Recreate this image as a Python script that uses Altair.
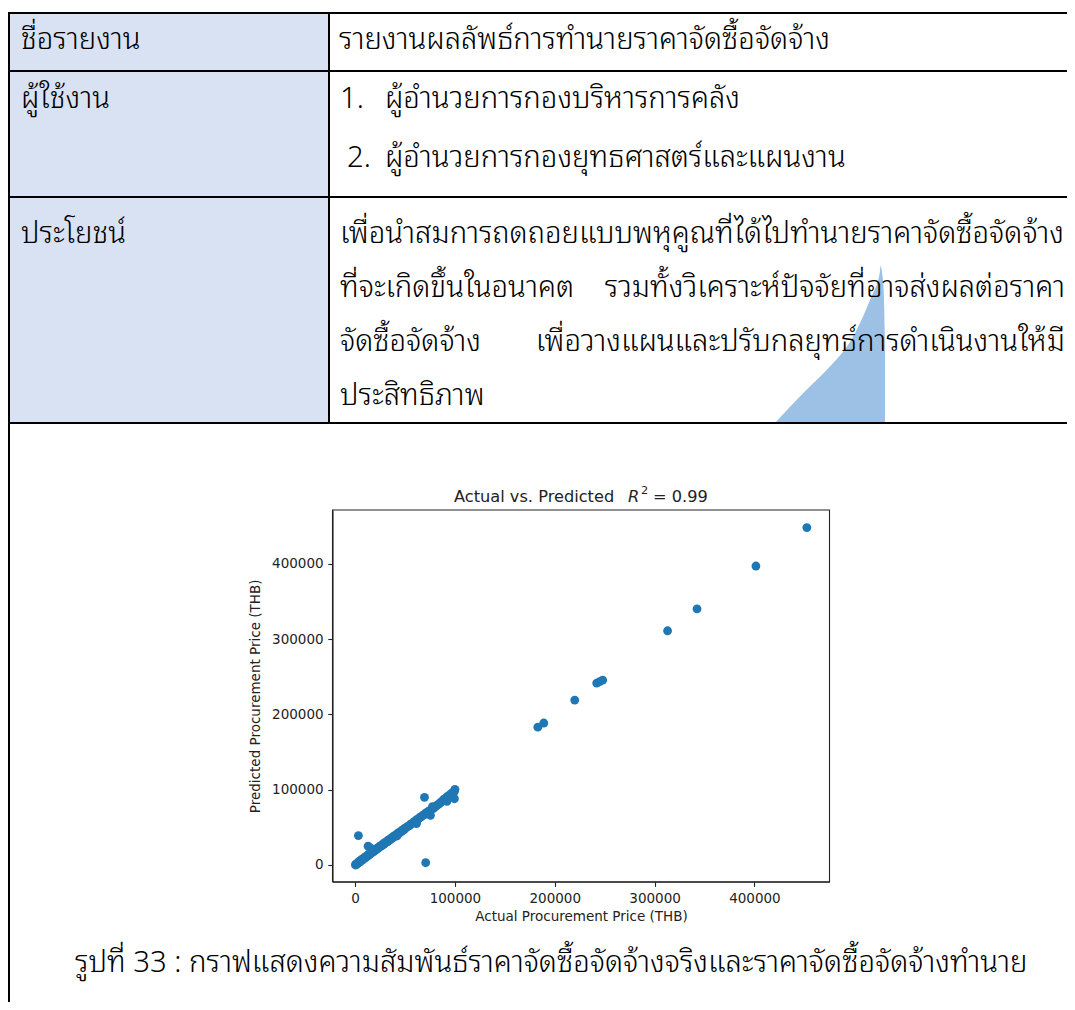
import altair as alt
import pandas as pd

# ---------------- scatter data (Actual vs. Predicted, THB) ----------------
actual = [
    300, 800, 1500, 2200, 3000, 3800, 4500, 5200, 6000, 6800,
    7500, 8300, 9000, 9800, 10500, 11300, 12000, 12800, 13500, 14300,
    15000, 16000, 17000, 18000, 19000, 20000, 21000, 22000, 23000, 24000,
    25000, 26000, 27000, 28000, 29000, 30000, 31000, 32000, 33000, 34000,
    35000, 36000, 37000, 38000, 39000, 40000, 41000, 42000, 43000, 44000,
    45000, 46000, 47000, 48000, 49000, 50000, 51500, 53000, 54500, 56000,
    57500, 59000, 60500, 62000, 63500, 65000, 66500, 68000, 69500, 71000,
    72500, 74000, 75500, 77000, 78500, 80000, 81500, 83000, 84500, 86000,
    87500, 89000, 90500, 92000, 93500, 95000, 96500, 98000, 99500, 100000,
    3300, 13000, 15500, 42000, 61500, 69500, 70700, 75500, 77500, 99500, 92000,
    183000, 189000, 220000, 242000, 245000, 248000, 313000, 342500, 401500, 452500,
]
predicted = [
    0, 1200, 900, 2600, 2400, 4300, 3900, 5800, 5400, 7300,
    6900, 8800, 8400, 10300, 9900, 11800, 11400, 13300, 12900, 14800,
    14400, 16600, 16300, 18500, 18200, 20400, 20100, 22300, 22000, 24200,
    23900, 26100, 25800, 28000, 27700, 29900, 29600, 31800, 31500, 33700,
    33400, 35600, 35300, 37500, 37200, 39400, 39100, 41300, 41000, 43200,
    42900, 45100, 44800, 47000, 46700, 48900, 49800, 51500, 52400, 54600,
    55200, 57600, 58100, 60500, 61200, 63400, 64100, 66300, 67000, 69200,
    70100, 71800, 72600, 74500, 75300, 77200, 78400, 80100, 81600, 83500,
    85200, 87400, 88300, 90600, 91500, 93400, 94600, 96300, 97800, 100500,
    39000, 25000, 22500, 38500, 55000, 89800, 3000, 66000, 77500, 88000, 84500,
    183000, 188500, 219000, 241500, 243500, 245500, 311000, 340000, 397000, 448000,
]
x_ticks = [0, 100000, 200000, 300000, 400000]
y_ticks = [0, 100000, 200000, 300000, 400000]

# ---------------- document texts ----------------
head_labels = ["ชื่อรายงาน", "ผู้ใช้งาน", "ประโยชน์"]
report_name = "รายงานผลลัพธ์การทำนายราคาจัดซื้อจัดจ้าง"
user_nums = ["1.", "2."]
users = ["ผู้อำนวยการกองบริหารการคลัง", "ผู้อำนวยการกองยุทธศาสตร์และแผนงาน"]
benefit_left = ["เพื่อนำสมการถดถอยแบบพหุคูณที่ได้ไปทำนายราคาจัดซื้อจัดจ้าง",
                "ที่จะเกิดขึ้นในอนาคต", "จัดซื้อจัดจ้าง", "ประสิทธิภาพ"]
benefit_right = ["รวมทั้งวิเคราะห์ปัจจัยที่อาจส่งผลต่อราคา",
                 "เพื่อวางแผนและปรับกลยุทธ์การดำเนินงานให้มี"]
caption = "รูปที่ 33 : กราฟแสดงความสัมพันธ์ราคาจัดซื้อจัดจ้างจริงและราคาจัดซื้อจัดจ้างทำนาย"
plot_title = ["Actual vs. Predicted", "R", "2", "= 0.99"]
x_title = "Actual Procurement Price (THB)"
y_title = "Predicted Procurement Price (THB)"

# ---------------- layout (page pixel coordinates) ----------------
W, H = 1059, 994
PX = alt.Scale(domain=[8, 8 + W], range=[0, W], nice=False, zero=False)
PY = alt.Scale(domain=[8, 8 + H], range=[0, H], nice=False, zero=False)
THAI = "Noto Sans Thai Looped, Noto Sans Thai, Noto Sans Thai UI, Loma, Garuda, Noto Sans, sans-serif"
TFS = 29.3
TFW = 300
PLOT_L, PLOT_R, PLOT_T, PLOT_B = 332.5, 829.5, 510.0, 881.7
XDOM = [-22650, 475200]
YDOM = [-22200, 471400]
INK = "#222222"
MPL_BLUE = "#1f77b4"


def px(field):
    return alt.X(field, type="quantitative", scale=PX, axis=None)


def py(field):
    return alt.Y(field, type="quantitative", scale=PY, axis=None)


# background cell fill
fill_df = pd.DataFrame({"x": [9], "x2": [329], "y": [13], "y2": [423]})
fill = alt.Chart(fill_df).mark_rect(color="#D9E2F3").encode(
    x=px("x"), x2="x2", y=py("y"), y2="y2")

# decorative blue fin behind the text
fin_df = pd.DataFrame({
    "y": [266, 280, 300, 323, 347, 370, 393, 423],
    "xl": [880.5, 878.3, 870, 860, 846.7, 826.7, 803.3, 775],
    "xr": [881, 883, 884, 884.5, 885, 885, 885, 885],
})
fin = alt.Chart(fin_df).mark_area(color="#9DC1E4", orient="horizontal", interpolate="monotone").encode(
    y=py("y"), x=px("xl"), x2="xr")

# table borders
hl_df = pd.DataFrame({"y": [13, 71, 197, 423], "x": [8, 8, 8, 8], "x2": [1075, 1075, 1075, 1075]})
hlines = alt.Chart(hl_df).mark_rule(color="black", strokeWidth=2).encode(
    x=px("x"), x2="x2", y=py("y"))
vl_df = pd.DataFrame({"x": [9, 329], "y": [12, 12], "y2": [1010, 424]})
vlines = alt.Chart(vl_df).mark_rule(color="black", strokeWidth=2).encode(
    x=px("x"), y=py("y"), y2="y2")

# texts
left_txt = pd.DataFrame({
    "x": [21, 21, 21, 339, 340, 347, 385, 385, 340, 340, 340, 340],
    "y": [49, 108, 243, 49, 108, 167, 108, 167, 243, 297, 351, 405],
    "t": head_labels + [report_name] + user_nums + users + benefit_left,
})
texts_l = alt.Chart(left_txt).mark_text(align="left", baseline="alphabetic", font=THAI,
                                        fontSize=TFS, fontWeight=TFW, color="black").encode(
    x=px("x"), y=py("y"), text="t:N")
right_txt = pd.DataFrame({"x": [1065, 1065], "y": [297, 351], "t": benefit_right})
texts_r = alt.Chart(right_txt).mark_text(align="right", baseline="alphabetic", font=THAI,
                                         fontSize=TFS, fontWeight=TFW, color="black").encode(
    x=px("x"), y=py("y"), text="t:N")
cap_df = pd.DataFrame({"x": [75], "y": [972], "t": [caption]})
cap = alt.Chart(cap_df).mark_text(align="left", baseline="alphabetic", font=THAI,
                                  fontSize=TFS, fontWeight=TFW, color="black").encode(
    x=px("x"), y=py("y"), text="t:N")

# plot frame (matplotlib spines)
frame_df = pd.DataFrame({"x": [PLOT_L], "x2": [PLOT_R], "y": [PLOT_T], "y2": [PLOT_B]})
frame = alt.Chart(frame_df).mark_rect(fill=None, stroke=INK, strokeWidth=1.1).encode(
    x=px("x"), x2="x2", y=py("y"), y2="y2")

# plot title pieces
t_main = alt.Chart(pd.DataFrame({"x": [454], "y": [502], "t": [plot_title[0]]})).mark_text(
    align="left", baseline="alphabetic", font="DejaVu Sans", fontSize=16.2, color=INK).encode(
    x=px("x"), y=py("y"), text="t:N")
t_r = alt.Chart(pd.DataFrame({"x": [628], "y": [502], "t": [plot_title[1]]})).mark_text(
    align="left", baseline="alphabetic", font="DejaVu Sans", fontStyle="italic", fontSize=16.2,
    color=INK).encode(x=px("x"), y=py("y"), text="t:N")
t_sup = alt.Chart(pd.DataFrame({"x": [641], "y": [494], "t": [plot_title[2]]})).mark_text(
    align="left", baseline="alphabetic", font="DejaVu Sans", fontSize=11.3, color=INK).encode(
    x=px("x"), y=py("y"), text="t:N")
t_eq = alt.Chart(pd.DataFrame({"x": [653], "y": [502], "t": [plot_title[3]]})).mark_text(
    align="left", baseline="alphabetic", font="DejaVu Sans", fontSize=16.2, color=INK).encode(
    x=px("x"), y=py("y"), text="t:N")

# scatter
sc_df = pd.DataFrame({"actual": actual, "predicted": predicted})
axis_common = dict(grid=False, format="d", labelFont="DejaVu Sans", labelFontSize=13.5,
                   labelColor=INK, tickColor=INK, tickSize=4.7, tickWidth=1.1,
                   domainColor=INK, domainWidth=1.1, labelPadding=4.7,
                   titleFont="DejaVu Sans", titleFontSize=13.5, titleFontWeight="normal",
                   titleColor=INK, labelFlush=False, labelOverlap=False)
scatter = alt.Chart(sc_df).mark_circle(size=78, color=MPL_BLUE, opacity=1).encode(
    x=alt.X("actual:Q",
            scale=alt.Scale(domain=XDOM, range=[PLOT_L - 8, PLOT_R - 8], nice=False, zero=False),
            axis=alt.Axis(values=x_ticks, title=x_title, offset=-(H - (PLOT_B - 8)),
                          titlePadding=5, **axis_common)),
    y=alt.Y("predicted:Q",
            scale=alt.Scale(domain=YDOM, range=[PLOT_B - 8, PLOT_T - 8], nice=False, zero=False),
            axis=alt.Axis(values=y_ticks, title=y_title, offset=-(PLOT_L - 8),
                          titlePadding=9, **axis_common)),
)

chart = alt.layer(
    fill, fin, hlines, vlines, texts_l, texts_r, cap, frame, t_main, t_r, t_sup, t_eq, scatter
).resolve_scale(x="independent", y="independent").properties(
    width=W, height=H, padding=0, autosize=alt.AutoSizeParams(type="none"),
    background="white",
).configure_view(stroke=None)

chart.save("out.html", embed_options={"renderer": "svg", "actions": False})
